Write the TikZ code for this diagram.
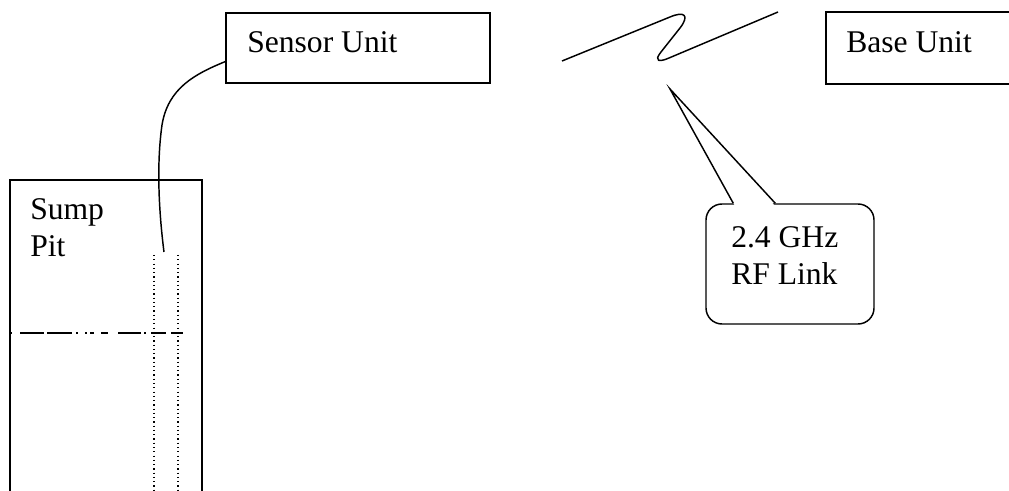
\documentclass[tikz,border=0pt]{standalone}
\usepackage{fontspec}
\setmainfont{Liberation Serif}
\usetikzlibrary{calc}
\begin{document}
\begin{tikzpicture}[x=0.75pt,y=-0.75pt,
  every node/.style={font=\fontsize{23.7pt}{27.75pt}\selectfont},
  unitbox/.style={draw,line width=1.1pt,inner sep=0pt},
  lbl/.style={inner sep=0pt,anchor=base west,align=left},
  outline/.style={line width=1.1pt},
  pipe/.style={line width=0.8pt,dash pattern=on 0.9pt off 2.3pt},
  level/.style={line width=0.8pt}]
\useasboundingbox (0,0) rectangle (1009,491);

% units
\node[unitbox,minimum width=264*0.75pt,minimum height=70*0.75pt] (sensor) at (358,48) {};
\node[lbl] (sensorlbl) at (247,53) {Sensor Unit};
\node[unitbox,minimum width=200*0.75pt,minimum height=72*0.75pt] (base) at (926,48) {};
\node[lbl] (baselbl) at (846,53) {Base Unit};

% sump pit (open at the bottom); multi-line labels are placed by their last baseline
\draw[outline] (10,500) -- (10,180) -- (202,180) -- (202,500);
\node[lbl] (sumplbl) at (30,257) {Sump\\Pit};

% sensor pipe
\draw[pipe] (154,255) -- (154,495);
\draw[pipe] (178,255) -- (178,495);

% water level
\draw[level,dash pattern=on 1.5pt off 6pt on 18pt off 2.25pt on 18.75pt off 3pt on 1.5pt off 5.25pt on 1.5pt off 2.25pt on 3pt off 5.25pt on 5.25pt off 7.5pt on 17.25pt off 2.25pt on 1.5pt off 3.75pt on 11.25pt off 3.75pt on 9pt off 13.5pt on 1.5pt off 15pt]
  (10,333) -- (204,333);

% cable from the sensor unit down into the pit
\coordinate (probe) at (164,252);
\draw[line width=1.1pt] ($(sensor.north west)!0.69!(sensor.south west)$)
  .. controls (195,74) and (168,88) .. (162,125)
  .. controls (157,160) and (158,205) .. (probe);

% RF link symbol
\draw[line width=1.1pt] (562,61) -- (670,17)
  .. controls (684,11) and (690,15) .. (680,28)
  -- (661,52)
  .. controls (653,62) and (660,62) .. (669,58)
  -- (778,12);

% callout
\node[draw,line width=1.1pt,rounded corners=12pt,minimum width=168*0.75pt,minimum height=120*0.75pt] (callout) at (790,264) {};
\coordinate (tip) at (670,89);
\fill[white] (735,206) -- (tip) -- (775,206) -- cycle;
\draw[line width=1.1pt,line join=miter] ($(callout.north west)+(28,0)$) -- (tip) -- ($(callout.north west)+(70,0)$);
\node[lbl] (calloutlbl) at (731,285) {2.4 GHz\\RF Link};
\end{tikzpicture}
\end{document}
